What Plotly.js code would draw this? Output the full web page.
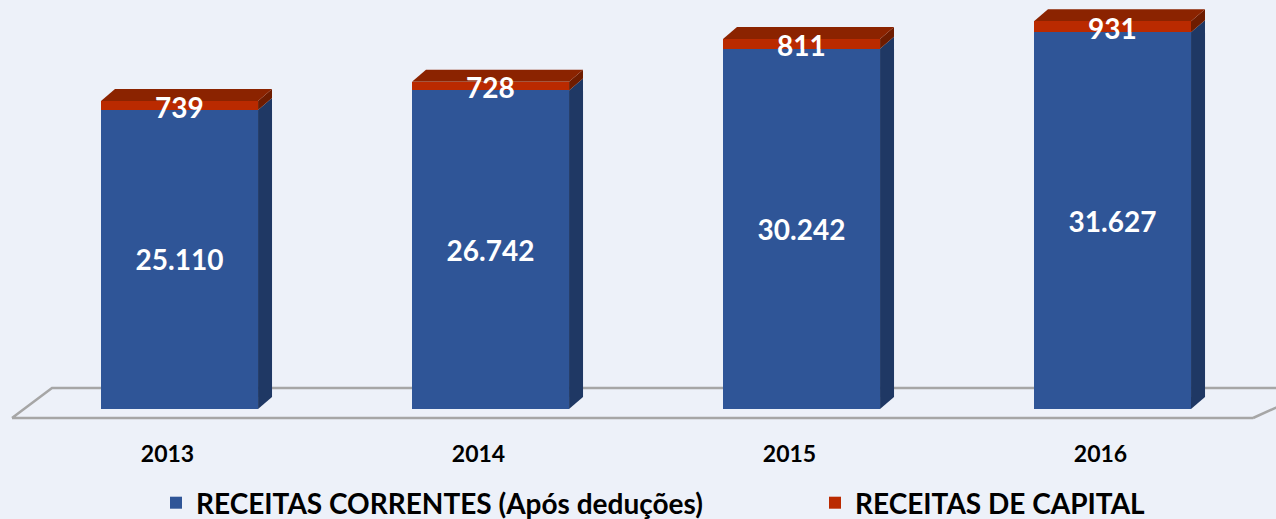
<!DOCTYPE html>
<html>
<head>
<meta charset="utf-8">
<script src="https://cdn.plot.ly/plotly-3.0.1.min.js"></script>
<style>
  html, body { margin: 0; padding: 0; background: #EDF1F9; }
  #plot { width: 1276px; height: 519px; }
</style>
</head>
<body>
<div id="plot"></div>
<script>
// values (R$ milhões)
const years = ["2013", "2014", "2015", "2016"];
const correntes = [25110, 26742, 30242, 31627];
const capital = [739, 728, 811, 931];

const xs = years.map((y, i) => i);
const barW = 0.505;

// fake 3D depth, in axis units
const dx = 0.045;
const dy = 1007;

let shapes = [];

// floor of the 3D box
shapes.push({
    type: "path", xref: "x", yref: "y", layer: "below",
    path: "M-0.5386,-756 L-0.410,1763 L3.60,1763 M3.4518,-756 L-0.5386,-756 M3.4518,-756 L3.60,1005",
    line: {color: "#A6A6A6", width: 2.5}
});

// side faces and top faces for every bar
xs.forEach((x, i) => {
    let r = x + barW / 2;
    let l = x - barW / 2;
    let b = correntes[i];
    let t = correntes[i] + capital[i];
    shapes.push({
        type: "path", xref: "x", yref: "y", layer: "below",
        path: `M${r},0 L${r + dx},${dy} L${r + dx},${b + dy} L${r},${b} Z`,
        fillcolor: "#1F3864", line: {width: 0}
    });
    shapes.push({
        type: "path", xref: "x", yref: "y", layer: "below",
        path: `M${r},${b} L${r + dx},${b + dy} L${r + dx},${t + dy} L${r},${t} Z`,
        fillcolor: "#6E1C00", line: {width: 0}
    });
    shapes.push({
        type: "path", xref: "x", yref: "y", layer: "below",
        path: `M${l},${t} L${l + dx},${t + dy} L${r + dx},${t + dy} L${r},${t} Z`,
        fillcolor: "#8B2300", line: {width: 0}
    });
});

let labelFont = {family: "Lato", size: 28, color: "white", weight: "bold"};
let legendFont = {family: "Lato", size: 28, color: "#000000", weight: "bold"};

// labels of the thin red part, placed over its middle
let annotations = xs.map((x, i) => ({
    x: x,
    y: correntes[i] + capital[i] / 2,
    xref: "x", yref: "y",
    text: String(capital[i]),
    showarrow: false,
    yshift: -1,
    font: labelFont
}));

let trace1 = {
    x: xs,
    y: correntes,
    name: "RECEITAS CORRENTES (Após deduções)",
    type: "bar",
    width: barW,
    marker: {color: "#2F5597", line: {width: 0}},
    texttemplate: "%{y:,.0f}",
    textposition: "inside",
    insidetextanchor: "middle",
    textfont: labelFont,
    hoverinfo: "skip",
    legend: "legend"
};

let trace2 = {
    x: xs,
    y: capital,
    name: "RECEITAS DE CAPITAL",
    type: "bar",
    width: barW,
    marker: {color: "#BA2A00", line: {width: 0}},
    textposition: "none",
    hoverinfo: "skip",
    legend: "legend2"
};

let layout = {
    width: 1276,
    height: 519,
    barmode: "stack",
    separators: ",.",
    paper_bgcolor: "#EDF1F9",
    plot_bgcolor: "#EDF1F9",
    margin: {l: 0, r: 0, t: 0, b: 89, autoexpand: false},
    font: {family: "Lato", color: "#000000"},
    xaxis: {
        range: [-0.5772, 3.5257],
        tickvals: xs,
        ticktext: years,
        tickfont: {family: "Lato", size: 23, color: "#000000", weight: "bold"},
        ticklabelshift: -12,
        ticklabelstandoff: 8,
        ticks: "",
        showgrid: false,
        zeroline: false,
        showline: false,
        automargin: false
    },
    yaxis: {
        range: [-1763, 34336],
        visible: false,
        showgrid: false,
        zeroline: false
    },
    showlegend: true,
    legend: {
        orientation: "h",
        x: 156 / 1276,
        xanchor: "left",
        xref: "container",
        y: 16 / 519,
        yanchor: "middle",
        yref: "container",
        font: legendFont,
        bgcolor: "rgba(0,0,0,0)"
    },
    legend2: {
        orientation: "h",
        x: 815 / 1276,
        xanchor: "left",
        xref: "container",
        y: 16 / 519,
        yanchor: "middle",
        yref: "container",
        font: legendFont,
        bgcolor: "rgba(0,0,0,0)"
    },
    annotations: annotations,
    shapes: shapes
};

Plotly.newPlot("plot", [trace1, trace2], layout, {displayModeBar: false, staticPlot: true});
</script>
</body>
</html>
